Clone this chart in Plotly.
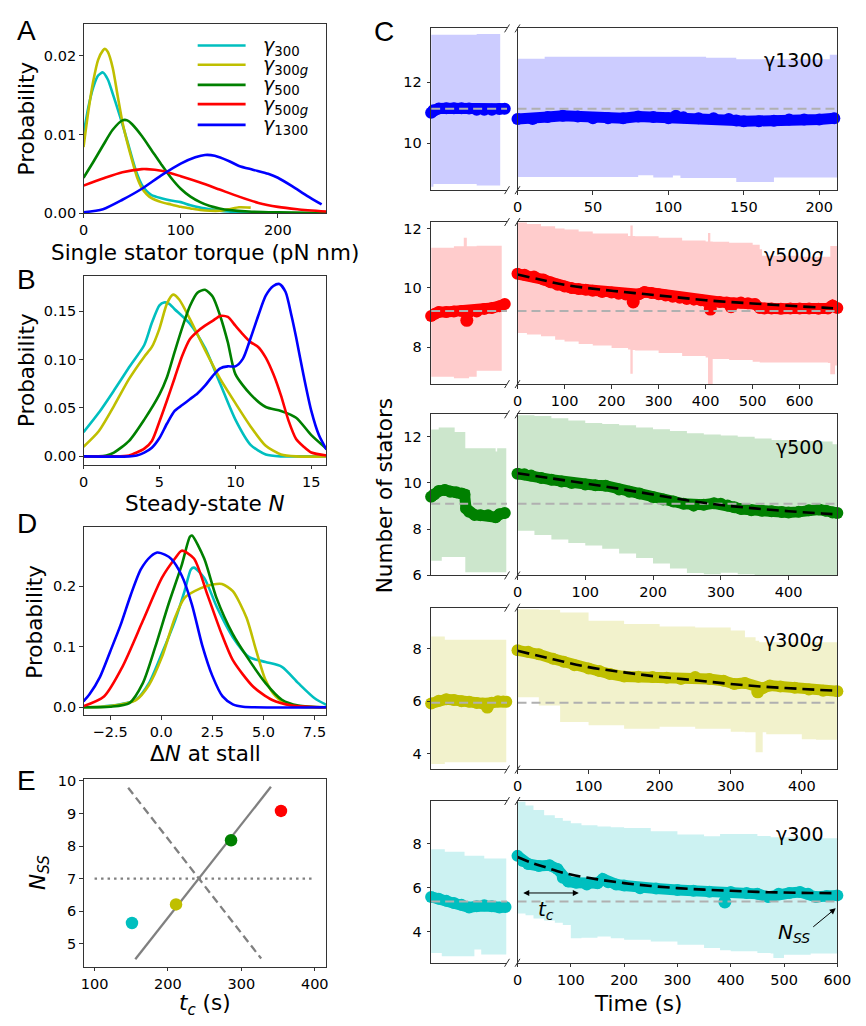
import plotly.graph_objects as go

W, H = 866, 1026
def px(x): return x / W
def py(y): return 1 - y / H

FONT = "DejaVu Sans"
C_CYAN, C_YEL, C_GRN, C_RED, C_BLU = "#00bfbf", "#bfbf00", "#008000", "#ff0000", "#0000ff"

# ---------------- Panel A: single stator torque KDE ----------------
a_x300 = [0, 5, 10, 15, 20, 25, 30, 35, 40, 45, 50, 55, 60, 65, 70, 80, 90, 100, 110, 120, 130, 140, 160, 180]
a_y300 = [0.0100, 0.0135, 0.0160, 0.0175, 0.0179, 0.0170, 0.0152, 0.0133, 0.0113, 0.0092, 0.0070, 0.0050, 0.0036, 0.0028,
          0.0023, 0.0019, 0.0016, 0.0014, 0.0010, 0.0007, 0.0005, 0.0003, 0.0001, 0.00003]
a_x300g = [0, 5, 10, 15, 20, 22, 25, 30, 35, 40, 45, 50, 55, 60, 65, 70, 80, 90, 100, 110, 120, 130, 140, 150, 160, 172]
a_y300g = [0.0084, 0.0130, 0.0168, 0.0195, 0.0207, 0.0209, 0.0205, 0.0185, 0.0150, 0.0116, 0.0090, 0.0067, 0.0046, 0.0032,
           0.0024, 0.0019, 0.0014, 0.0011, 0.0008, 0.0006, 0.0004, 0.0003, 0.0003, 0.0005, 0.00075, 0.0007]
a_x500 = [0, 10, 20, 30, 40, 45, 50, 60, 70, 80, 90, 100, 110, 120, 130, 140, 150, 170, 200, 250]
a_y500 = [0.0045, 0.0065, 0.0086, 0.0106, 0.0118, 0.0118, 0.0113, 0.0098, 0.0080, 0.0062, 0.0045, 0.0031, 0.0021, 0.0014,
          0.0009, 0.0006, 0.0004, 0.0002, 0.0001, 0.0]
a_x500g = [0, 20, 40, 60, 65, 80, 100, 120, 140, 160, 180, 200, 220, 250]
a_y500g = [0.0035, 0.0044, 0.0052, 0.0056, 0.0056, 0.0054, 0.0047, 0.0039, 0.0030, 0.0021, 0.0013, 0.0008, 0.0005, 0.0002]
a_x1300 = [0, 20, 40, 60, 80, 100, 115, 125, 135, 150, 160, 175, 190, 200, 215, 230, 245]
a_y1300 = [0.0001, 0.0005, 0.0017, 0.0031, 0.0048, 0.0063, 0.0071, 0.0074, 0.0073, 0.0066, 0.0060, 0.0055, 0.0050, 0.0045,
           0.0034, 0.0022, 0.0011]

# ---------------- Panel B: steady-state N KDE ----------------
b_x300 = [0, 1, 2, 3, 4, 4.5, 5, 5.3, 5.6, 6, 7, 8, 9, 10, 11, 12, 13, 14, 16]
b_y300 = [0.025, 0.045, 0.068, 0.092, 0.115, 0.138, 0.156, 0.159, 0.158, 0.152, 0.137, 0.112, 0.075, 0.038, 0.012, 0.002, 0, 0, 0]
b_x300g = [0, 1, 2, 3, 4, 4.5, 5, 5.5, 5.9, 6.3, 7, 8, 9, 10, 11, 12, 13, 14, 16]
b_y300g = [0.010, 0.026, 0.052, 0.080, 0.103, 0.113, 0.132, 0.158, 0.167, 0.162, 0.142, 0.110, 0.080, 0.055, 0.031, 0.011, 0.002, 0, 0]
b_x500 = [0, 1, 1.5, 2, 3, 4, 5, 5.5, 6, 6.5, 7, 7.5, 8, 8.5, 9, 9.5, 10, 11, 12, 13, 14, 15, 16]
b_y500 = [0, 0, 0.001, 0.004, 0.016, 0.038, 0.064, 0.082, 0.108, 0.133, 0.155, 0.169, 0.172, 0.165, 0.145, 0.118, 0.085,
          0.064, 0.051, 0.047, 0.040, 0.022, 0.008]
b_x500g = [0, 2, 3, 3.5, 4, 4.5, 5, 5.5, 6, 6.5, 7, 7.5, 8, 8.5, 9, 9.5, 10, 10.5, 11, 11.5, 12, 12.5, 13, 13.5, 14, 14.5, 15, 16]
b_y500g = [0, 0, 0.001, 0.004, 0.008, 0.016, 0.036, 0.058, 0.081, 0.104, 0.121, 0.129, 0.135, 0.140, 0.145, 0.144, 0.135,
           0.126, 0.118, 0.113, 0.102, 0.085, 0.063, 0.037, 0.018, 0.010, 0.004, 0.001]
b_x1300 = [0, 3, 3.5, 4, 4.5, 5, 5.5, 6, 6.5, 7, 7.5, 8, 8.5, 9, 9.5, 10, 10.5, 11, 11.5, 12, 12.5, 12.9, 13.3, 13.7, 14,
           14.5, 15, 15.5, 16]
b_y1300 = [0, 0, 0.001, 0.004, 0.009, 0.019, 0.034, 0.047, 0.053, 0.059, 0.065, 0.073, 0.083, 0.091, 0.093, 0.093, 0.101,
           0.122, 0.145, 0.166, 0.176, 0.178, 0.170, 0.145, 0.123, 0.083, 0.047, 0.022, 0.007]

# ---------------- Panel D: delta N at stall KDE ----------------
d_x300 = [-3.8, -3, -2, -1.24, -0.6, 0.03, 0.67, 1.14, 1.45, 1.6, 2.1, 2.73, 3.5, 4.3, 5.1, 5.9, 6.7, 7.5, 8.08]
d_y300 = [0, 0.001, 0.005, 0.0125, 0.040, 0.089, 0.143, 0.192, 0.228, 0.231, 0.214, 0.165, 0.116, 0.083, 0.075, 0.067,
          0.040, 0.015, 0.004]
d_x300g = [-3.8, -2.5, -1.24, -0.6, 0.03, 0.67, 1.14, 1.94, 2.5, 2.97, 3.5, 4.17, 4.64, 5.1, 5.6, 6.2, 7, 8.08]
d_y300g = [0, 0.002, 0.012, 0.037, 0.083, 0.148, 0.181, 0.197, 0.203, 0.204, 0.192, 0.148, 0.094, 0.045, 0.018, 0.004, 0, 0]
d_x500 = [-3.8, -2.5, -1.56, -0.9, -0.3, 0.35, 1.0, 1.4, 1.5, 2.1, 2.7, 3.5, 4.3, 5.1, 5.9, 6.7, 8.08]
d_y500 = [0, 0.001, 0.007, 0.040, 0.099, 0.170, 0.235, 0.282, 0.284, 0.246, 0.181, 0.121, 0.078, 0.040, 0.0125, 0.003, 0]
d_x500g = [-3.8, -2.8, -1.9, -0.9, 0.03, 0.67, 1.0, 1.6, 2.26, 2.9, 3.5, 4.5, 5.4, 6.4, 8.08]
d_y500g = [0.002, 0.018, 0.067, 0.143, 0.214, 0.246, 0.259, 0.246, 0.186, 0.126, 0.078, 0.034, 0.0125, 0.003, 0]
d_x1300 = [-3.8, -3.5, -3, -2.5, -2, -1.5, -1, -0.5, -0.2, 0.2, 0.5, 1.0, 1.5, 2.0, 2.5, 3.0, 3.5, 4.0, 8.08]
d_y1300 = [0.010, 0.022, 0.050, 0.092, 0.135, 0.185, 0.228, 0.250, 0.256, 0.252, 0.245, 0.218, 0.170, 0.103, 0.052, 0.018,
           0.005, 0.001, 0]

# ---------------- Panel E: N_SS vs t_c ----------------
e_tc = [151, 211, 286, 354]
e_nss = [5.64, 6.21, 8.18, 9.08]
e_colors = [C_CYAN, C_YEL, C_GRN, C_RED]
e_solid_x = [155.5, 340.3]
e_solid_y = [4.53, 9.82]
e_dash_x = [145.8, 327]
e_dash_y = [9.79, 4.55]
e_dot_x = [100, 400]
e_dot_y = [7.0, 7.0]

# ---------------- Panel C: time courses ----------------
# row order: gamma1300, gamma500g, gamma500, gamma300g, gamma300
c_labels = ["γ1300", "γ500<i>g</i>", "γ500", "γ300<i>g</i>", "γ300"]
c_colors = [C_BLU, C_RED, C_GRN, C_YEL, C_CYAN]
c_fills = ["#ccccff", "#ffcccc", "#cce6cc", "#f2f2cc", "#ccf2f2"]
c_gray_level = [11.13, 9.22, 9.1, 5.95, 5.37]
c_xmax = [212, 680, 472, 450, 600]
c_xticks = [[0, 50, 100, 150, 200], [0, 100, 200, 300, 400, 500, 600], [0, 100, 200, 300, 400],
            [0, 100, 200, 300, 400], [0, 100, 200, 300, 400, 500, 600]]
c_yrange = [(8.47, 13.76), (6.75, 12.22), (6.0, 12.97), (3.41, 9.56), (2.58, 9.95)]
c_yticks = [[10, 12], [8, 10, 12], [6, 8, 10, 12], [4, 6, 8], [4, 6, 8]]

# pre-stall (left, broken axis, arbitrary units 0..1)
pre_t = [
    [0, 0.03, 0.1, 0.2, 0.3, 0.4, 0.5, 0.6, 0.7, 0.8, 0.9, 0.97],
    [0, 0.05, 0.1, 0.2, 0.3, 0.4, 0.5, 0.6, 0.7, 0.8, 0.9, 0.97],
    [0, 0.04, 0.1, 0.18, 0.25, 0.33, 0.4, 0.44, 0.46, 0.5, 0.57, 0.65, 0.75, 0.85, 0.9, 0.97],
    [0, 0.1, 0.2, 0.3, 0.4, 0.5, 0.6, 0.68, 0.8, 0.88, 0.95, 0.99],
    [0, 0.1, 0.2, 0.3, 0.4, 0.5, 0.6, 0.7, 0.8, 0.9, 0.98],
]
pre_n = [
    [11.0, 11.08, 11.14, 11.15, 11.15, 11.15, 11.14, 11.1, 11.1, 11.1, 11.12, 11.13],
    [9.05, 9.12, 9.18, 9.18, 9.2, 9.22, 9.18, 9.2, 9.28, 9.32, 9.38, 9.45],
    [9.4, 9.5, 9.65, 9.7, 9.62, 9.6, 9.55, 9.5, 8.9, 8.75, 8.62, 8.6, 8.6, 8.52, 8.65, 8.7],
    [5.92, 6.02, 6.08, 6.05, 6.0, 5.98, 5.94, 5.92, 5.95, 6.0, 5.99, 5.98],
    [5.58, 5.5, 5.4, 5.3, 5.22, 5.1, 5.15, 5.2, 5.15, 5.1, 5.12],
]
# isolated outlying points (single large dots)
pre_dip_t = [[], [0.47], [], [0.74], []]
pre_dip_n = [[], [8.9], [], [5.78], []]

pre_up_t = [[0, 0.6, 0.91], [0, 0.3, 0.43, 0.47, 0.6, 0.93], [0, 0.1, 0.31, 0.44, 0.45, 0.85, 0.87, 0.99],
            [0, 0.18, 0.99], [0, 0.18, 0.44, 0.7, 0.99]]
pre_up = [[13.55, 13.58, 13.58], [11.35, 11.4, 11.69, 11.4, 11.42, 11.45], [12.31, 12.4, 12.21, 12.21, 11.5, 11.36, 11.5, 11.32],
          [8.46, 8.34, 8.36], [7.75, 7.64, 7.45, 7.33, 7.33]]
pre_lo_t = [[0, 0.03, 0.6, 0.91], [0, 0.3, 0.5, 0.6, 0.93], [0, 0.14, 0.44, 0.45, 0.99],
            [0, 0.18, 0.99], [0, 0.14, 0.44, 0.57, 0.66, 0.99]]
pre_lo = [[8.58, 8.67, 8.62, 8.62], [7.0, 6.95, 7.0, 7.2, 7.35], [6.63, 6.8, 6.8, 6.14, 6.07],
          [3.62, 3.68, 3.66], [3.03, 2.88, 2.88, 3.18, 2.96, 2.96]]

# post-stall mean number of stators (right)
post_t = [
    [0, 10, 20, 30, 40, 50, 60, 70, 80, 90, 100, 105, 110, 120, 130, 140, 145, 150, 160, 170, 180, 190, 200, 210],
    [0, 15, 35, 55, 70, 85, 100, 115, 130, 145, 160, 180, 200, 215, 230, 245, 258, 270, 285, 300, 315, 330, 345,
     360, 375, 390, 400, 415, 430, 445, 460, 475, 490, 505, 515, 525, 540, 560, 580, 600, 620, 640, 660, 670, 680],
    [0, 10, 20, 35, 50, 65, 80, 100, 115, 130, 150, 165, 180, 200, 215, 230, 245, 260, 275, 290, 300, 310, 320, 330, 345,
     360, 375, 390, 400, 415, 430, 445, 455, 465, 472],
    [0, 15, 30, 50, 65, 80, 100, 115, 130, 150, 170, 190, 210, 230, 250, 270, 290, 305, 320, 345, 355, 370, 390, 410,
     430, 450],
    [0, 10, 20, 40, 60, 75, 85, 95, 110, 130, 150, 160, 170, 185, 200, 230, 260, 300, 330, 360, 400, 430, 450, 470,
     490, 510, 530, 545, 560, 580, 600],
]
post_n = [
    [10.8, 10.8, 10.86, 10.9, 10.88, 10.82, 10.82, 10.82, 10.88, 10.86, 10.82, 10.9, 10.85, 10.82, 10.82, 10.8, 10.75,
     10.72, 10.72, 10.74, 10.78, 10.78, 10.78, 10.82],
    [10.47, 10.44, 10.38, 10.28, 10.19, 10.1, 10.04, 9.99, 9.96, 9.93, 9.9, 9.86, 9.84, 9.8, 9.77, 9.74, 9.78, 9.86,
     9.82, 9.78, 9.74, 9.7, 9.66, 9.62, 9.6, 9.58, 9.55, 9.52, 9.52, 9.5, 9.47, 9.5, 9.48, 9.45, 9.32, 9.3, 9.3,
     9.29, 9.3, 9.3, 9.3, 9.29, 9.3, 9.4, 9.32],
    [10.4, 10.38, 10.32, 10.22, 10.14, 10.06, 10.0, 9.93, 9.9, 9.88, 9.72, 9.62, 9.54, 9.38, 9.28, 9.2, 9.1, 9.02, 9.06,
     9.12, 9.1, 9.03, 8.95, 8.87, 8.82, 8.8, 8.78, 8.74, 8.72, 8.75, 8.82, 8.85, 8.8, 8.72, 8.7],
    [7.94, 7.88, 7.79, 7.62, 7.5, 7.37, 7.25, 7.15, 7.04, 6.94, 6.93, 6.92, 6.9, 6.85, 6.92, 6.85, 6.78, 6.66, 6.7,
     6.5, 6.6, 6.56, 6.52, 6.45, 6.4, 6.38],
    [7.45, 7.22, 7.08, 6.99, 7.02, 6.85, 6.45, 6.28, 6.22, 6.15, 6.2, 6.4, 6.25, 6.15, 6.1, 5.98, 5.96, 5.9, 5.86, 5.82,
     5.8, 5.76, 5.72, 5.58, 5.72, 5.76, 5.8, 5.72, 5.58, 5.62, 5.65],
]
post_dip_t = [[], [246, 410, 454], [], [338], [389]]
post_dip_n = [[], [9.52, 9.28, 9.36], [], [6.36], [5.35]]

# exponential fits (dashed black)
fit_t = [None,
         [0, 50, 100, 150, 200, 250, 300, 350, 400, 450, 500, 550, 600, 650, 680],
         [0, 50, 100, 150, 200, 250, 300, 350, 400, 450, 472],
         [0, 50, 100, 150, 200, 250, 300, 350, 400, 450],
         [0, 25, 50, 75, 100, 150, 200, 250, 300, 350, 400, 450, 500, 550, 600]]
fit_n = [None,
         [10.45, 10.27, 10.1, 9.99, 9.9, 9.82, 9.74, 9.66, 9.58, 9.52, 9.47, 9.42, 9.37, 9.33, 9.3],
         [10.42, 10.2, 9.98, 9.75, 9.5, 9.25, 9.05, 8.9, 8.78, 8.68, 8.64],
         [7.92, 7.6, 7.3, 7.1, 6.93, 6.8, 6.66, 6.55, 6.47, 6.4],
         [7.4, 7.15, 6.95, 6.75, 6.6, 6.38, 6.21, 6.08, 5.98, 5.91, 5.86, 5.81, 5.78, 5.76, 5.75]]
# post-stall spread band
band_t = [
    [0, 18, 80, 90, 103, 108, 125, 145, 170, 207, 212],
    [0, 20, 50, 80, 100, 130, 160, 200, 235, 240, 245, 250, 300, 350, 400, 405, 410, 415, 450, 500, 515, 520, 600, 640,
     660, 665, 668, 675, 680],
    [0, 25, 50, 75, 100, 125, 150, 175, 200, 225, 250, 275, 300, 325, 350, 375, 400, 425, 450, 465, 472],
    [0, 30, 60, 100, 150, 200, 250, 300, 320, 335, 340, 345, 350, 400, 420, 450],
    [0, 15, 30, 50, 70, 85, 100, 120, 150, 175, 200, 250, 300, 350, 380, 400, 450, 475, 480, 490, 500, 550, 600],
]
band_up = [
    [12.77, 12.83, 12.83, 12.83, 12.83, 12.83, 12.8, 12.75, 12.75, 12.9, 12.9],
    [12.2, 12.15, 12.08, 12.0, 11.97, 11.9, 11.83, 11.83, 11.75, 12.1, 11.75, 11.74, 11.69, 11.6, 11.56, 11.85, 11.56,
     11.55, 11.52, 11.45, 11.3, 11.08, 11.05, 11.05, 11.05, 11.41, 11.41, 11.41, 11.41],
    [12.93, 12.9, 12.8, 12.7, 12.6, 12.55, 12.5, 12.4, 12.32, 12.25, 12.15, 12.1, 12.05, 12.0, 11.92, 11.86, 11.82, 11.82,
     11.8, 11.68, 11.68],
    [9.5, 9.48, 9.38, 9.06, 8.94, 8.84, 8.81, 8.69, 8.44, 8.3, 8.25, 8.25, 8.25, 8.25, 8.25, 8.25],
    [9.92, 9.75, 9.54, 9.3, 9.17, 9.05, 8.94, 8.85, 8.79, 8.75, 8.72, 8.57, 8.42, 8.34, 8.45, 8.45, 8.35, 8.3, 8.3, 8.3,
     8.3, 8.25, 8.2],
]
band_lo = [
    [8.9, 8.9, 8.96, 8.88, 8.95, 8.87, 8.87, 8.74, 8.88, 8.88, 8.88],
    [8.47, 8.42, 8.36, 8.25, 8.19, 8.1, 8.05, 7.97, 7.92, 7.1, 7.9, 7.88, 7.8, 7.7, 7.65, 6.75, 6.75, 7.6, 7.56, 7.5, 7.48,
     7.48, 7.48, 7.48, 7.46, 7.08, 7.08, 7.38, 7.38],
    [7.93, 7.75, 7.55, 7.4, 7.3, 7.15, 6.95, 6.75, 6.52, 6.3, 6.1, 6.05, 6.12, 6.05, 5.9, 5.9, 5.9, 5.9, 5.9, 5.9, 5.9],
    [6.15, 5.84, 5.21, 5.09, 4.96, 5.03, 4.96, 4.84, 4.82, 4.06, 4.06, 4.82, 4.75, 4.56, 4.54, 4.54],
    [4.82, 4.75, 4.6, 4.5, 4.4, 4.3, 3.7, 3.72, 3.78, 3.7, 3.63, 3.55, 3.4, 3.25, 3.15, 3.1, 3.03, 3.0, 2.8, 2.8, 2.95,
     3.0, 3.03],
]

# ---------------- figure ----------------
fig = go.Figure()
AXC = "#333333"
base = dict(showgrid=False, zeroline=False, showline=True, linecolor=AXC, linewidth=1, ticks="outside", ticklen=3.5,
            tickwidth=1, tickcolor=AXC, tickfont=dict(family=FONT, size=14.5, color="black"))
layout = {}

def ax_names(i):
    return ("xaxis" if i == 1 else f"xaxis{i}", "yaxis" if i == 1 else f"yaxis{i}",
            "x" if i == 1 else f"x{i}", "y" if i == 1 else f"y{i}")

def add_axes(i, xpx, ypx, xr, yr, xkw=None, ykw=None):
    xa, ya, xr_, yr_ = ax_names(i)
    xd = dict(base); xd.update(domain=[px(xpx[0]), px(xpx[1])], range=list(xr), anchor=yr_, mirror=True)
    yd = dict(base); yd.update(domain=[py(ypx[1]), py(ypx[0])], range=list(yr), anchor=xr_, mirror=True)
    if xkw: xd.update(xkw)
    if ykw: yd.update(ykw)
    layout[xa] = xd
    layout[ya] = yd

def trace(i, x, y, **kw):
    _, _, xr_, yr_ = ax_names(i)
    d = dict(mode="lines", showlegend=False, hoverinfo="skip")
    d.update(kw)
    fig.add_trace(go.Scatter(x=x, y=y, xaxis=xr_, yaxis=yr_, **d))

LX = (80.3, 328.7)
add_axes(1, LX, (18.7, 210), (0, 250), (0, 0.024), dict(tickvals=[0, 100, 200]),
         dict(tickvals=[0, 0.01, 0.02], tickformat=".2f"))
add_axes(2, LX, (274, 465), (0, 16), (-0.0085, 0.186), dict(tickvals=[0, 5, 10, 15]),
         dict(tickvals=[0, 0.05, 0.10, 0.15], tickformat=".2f"))
add_axes(3, LX, (528.3, 719.3), (-3.8, 8.08), (-0.0135, 0.298), dict(tickvals=[-2.5, 0, 2.5, 5, 7.5], tickformat=".1f"),
         dict(tickvals=[0, 0.1, 0.2], tickformat=".1f"))
add_axes(4, LX, (783.3, 974), (85, 416), (4.3, 10.07), dict(tickvals=[100, 200, 300, 400]),
         dict(tickvals=[5, 6, 7, 8, 9, 10]))

kde_sets = [
    (1, [(a_x300, a_y300, C_CYAN), (a_x300g, a_y300g, C_YEL), (a_x500, a_y500, C_GRN), (a_x500g, a_y500g, C_RED),
         (a_x1300, a_y1300, C_BLU)]),
    (2, [(b_x300, b_y300, C_CYAN), (b_x300g, b_y300g, C_YEL), (b_x500, b_y500, C_GRN), (b_x500g, b_y500g, C_RED),
         (b_x1300, b_y1300, C_BLU)]),
    (3, [(d_x300, d_y300, C_CYAN), (d_x300g, d_y300g, C_YEL), (d_x500, d_y500, C_GRN), (d_x500g, d_y500g, C_RED),
         (d_x1300, d_y1300, C_BLU)]),
]
for i, sets in kde_sets:
    for x, y, c in sets:
        trace(i, x, y, line=dict(color=c, width=2.6, shape="spline", smoothing=0.7))

# panel E
trace(4, e_dot_x, e_dot_y, line=dict(color="#808080", width=2.3, dash="2.5px,4px"))
trace(4, e_dash_x, e_dash_y, line=dict(color="#808080", width=2.3, dash="8px,4.5px"))
trace(4, e_solid_x, e_solid_y, line=dict(color="#808080", width=2.3))
trace(4, e_tc, e_nss, mode="markers", marker=dict(color=e_colors, size=12.5, line=dict(width=0)))

# panel C
rows_y = [(22.7, 186.7), (219, 383.3), (414, 577.3), (610, 774), (806, 970)]
LEFT_X = (435.7, 513.3)
RIGHT_X = (524, 851)
shapes = []
annotations = []
for r in range(5):
    il, ir = 5 + 2 * r, 6 + 2 * r
    add_axes(il, LEFT_X, rows_y[r], (0, 1), c_yrange[r],
             dict(ticks="", showticklabels=False, mirror=True),
             dict(tickvals=c_yticks[r], mirror=False, ticklabelstandoff=2))
    add_axes(ir, RIGHT_X, rows_y[r], (0, c_xmax[r]), c_yrange[r],
             dict(tickvals=c_xticks[r]),
             dict(ticks="", showticklabels=False, mirror=True))
    col, fillc = c_colors[r], c_fills[r]
    # bands
    trace(il, pre_lo_t[r], pre_lo[r], line=dict(width=0, shape="hv"))
    trace(il, pre_up_t[r], pre_up[r], line=dict(width=0, shape="hv"), fill="tonexty", fillcolor=fillc)
    trace(ir, band_t[r], band_lo[r], line=dict(width=0, shape="hv"))
    trace(ir, band_t[r], band_up[r], line=dict(width=0, shape="hv"), fill="tonexty", fillcolor=fillc)
    # means
    trace(il, pre_t[r], pre_n[r], mode="lines+markers", line=dict(color=col, width=11),
          marker=dict(color=col, size=12), cliponaxis=False)
    trace(ir, post_t[r], post_n[r], mode="lines+markers", line=dict(color=col, width=11),
          marker=dict(color=col, size=12), cliponaxis=False)
    if pre_dip_t[r]:
        trace(il, pre_dip_t[r], pre_dip_n[r], mode="markers", marker=dict(color=col, size=13))
    if post_dip_t[r]:
        trace(ir, post_dip_t[r], post_dip_n[r], mode="markers", marker=dict(color=col, size=13))
    # gray reference (pre-stall steady state)
    g = c_gray_level[r]
    trace(il, [0, 1], [g, g], line=dict(color="#b0b0b0", width=2, dash="9px,5px"))
    trace(ir, [0, c_xmax[r]], [g, g], line=dict(color="#b0b0b0", width=2, dash="9px,5px"))
    if fit_t[r] is not None:
        trace(ir, fit_t[r], fit_n[r], line=dict(color="black", width=2.6, dash="12px,6px", shape="spline"))
    # break marks
    for xb in (LEFT_X[1], RIGHT_X[0]):
        for yb in rows_y[r]:
            shapes.append(dict(type="line", xref="paper", yref="paper", x0=px(xb - 2.5), y0=py(yb + 4),
                               x1=px(xb + 2.5), y1=py(yb - 4), line=dict(color=AXC, width=1)))
    # row label
    yc = [55, 252.3, 446.7, 642.7, 839.3][r]
    annotations.append(dict(text=c_labels[r], xref="paper", yref="paper", x=px(839), y=py(yc), xanchor="right",
                            yanchor="middle", showarrow=False, font=dict(family=FONT, size=19, color="black")))

# legend of panel A (manual)
leg_names = ["<i>γ</i><sub>300</sub>", "<i>γ</i><sub>300<i>g</i></sub>", "<i>γ</i><sub>500</sub>",
             "<i>γ</i><sub>500<i>g</i></sub>", "<i>γ</i><sub>1300</sub>"]
leg_cols = [C_CYAN, C_YEL, C_GRN, C_RED, C_BLU]
leg_y = [40, 59.5, 80, 99.5, 120.5]
for nm, c, yy in zip(leg_names, leg_cols, leg_y):
    shapes.append(dict(type="line", xref="paper", yref="paper", x0=px(197), x1=px(246), y0=py(yy), y1=py(yy),
                       line=dict(color=c, width=2.6)))
    annotations.append(dict(text=nm, xref="paper", yref="paper", x=px(262), y=py(yy + 1), xanchor="left",
                            yanchor="middle", showarrow=False, font=dict(family=FONT, size=19, color="black")))

# annotations in gamma300 panel
ir5 = "x14"; yr5 = "y14"
annotations.append(dict(x=115, y=5.76, ax=8, ay=5.76, xref=ir5, yref=yr5, axref=ir5, ayref=yr5, text="",
                        showarrow=True, arrowhead=2, arrowside="end+start", arrowsize=1.2, arrowwidth=1,
                        arrowcolor="black"))
annotations.append(dict(x=54, y=5.0, xref=ir5, yref=yr5, text="<i>t<sub>c</sub></i>", showarrow=False,
                        font=dict(family=FONT, size=20, color="black")))
annotations.append(dict(x=597, y=5.06, ax=552, ay=4.16, xref=ir5, yref=yr5, axref=ir5, ayref=yr5, text="",
                        showarrow=True, arrowhead=2, arrowsize=1.2, arrowwidth=1, arrowcolor="black"))
annotations.append(dict(x=519, y=3.93, xref=ir5, yref=yr5, text="<i>N<sub>SS</sub></i>", showarrow=False,
                        font=dict(family=FONT, size=20, color="black")))

# axis titles
def title(text, x, y, angle=0, size=21.5):
    annotations.append(dict(text=text, xref="paper", yref="paper", x=px(x), y=py(y), xanchor="center",
                            yanchor="middle", showarrow=False, textangle=angle,
                            font=dict(family=FONT, size=size, color="black")))

title("Single stator torque (pN nm)", 204, 250)
title("Probability", 22, 114.5, -90)
title("Steady-state <i>N</i>", 204.5, 504)
title("Probability", 22, 369.5, -90)
title("Δ<i>N</i> at stall", 204.5, 758)
title("Probability", 30, 623.8, -90)
title("<i>t<sub>c</sub></i> (s)", 204.5, 1012)
title("<i>N<sub>SS</sub></i>", 35, 878.7, -90)
title("Number of stators", 388, 496.5, -90)
title("Time (s)", 647, 1011)

for letter, x, y in [("A", 22, 25), ("B", 22, 277), ("C", 387, 26), ("D", 22, 525), ("E", 22, 785)]:
    annotations.append(dict(text=letter, xref="paper", yref="paper", x=px(x), y=py(y), xanchor="center",
                            yanchor="middle", showarrow=False,
                            font=dict(family="Liberation Sans", size=28, color="black")))

# the figure fills the browser viewport; all positions are fractions of it
fig.update_layout(autosize=True, margin=dict(l=0, r=0, t=0, b=0, pad=0), paper_bgcolor="white",
                  plot_bgcolor="white", showlegend=False, shapes=shapes, annotations=annotations,
                  font=dict(family=FONT), **layout)
fig.write_html(
    "out.html",
    default_width="100vw",
    default_height="100vh",
    config={"displayModeBar": False, "staticPlot": True, "responsive": True},
    post_script=(
        "document.documentElement.style.overflow='hidden';"
        "document.body.style.margin='0';document.body.style.padding='0';document.body.style.overflow='hidden';"
        "var gd=document.getElementById('{plot_id}');"
        "gd.style.position='fixed';gd.style.left='0px';gd.style.top='0px';"
        "gd.style.width='100vw';gd.style.height='100vh';"
        "if(window.Plotly){Plotly.Plots.resize(gd);}"
    ),
)
